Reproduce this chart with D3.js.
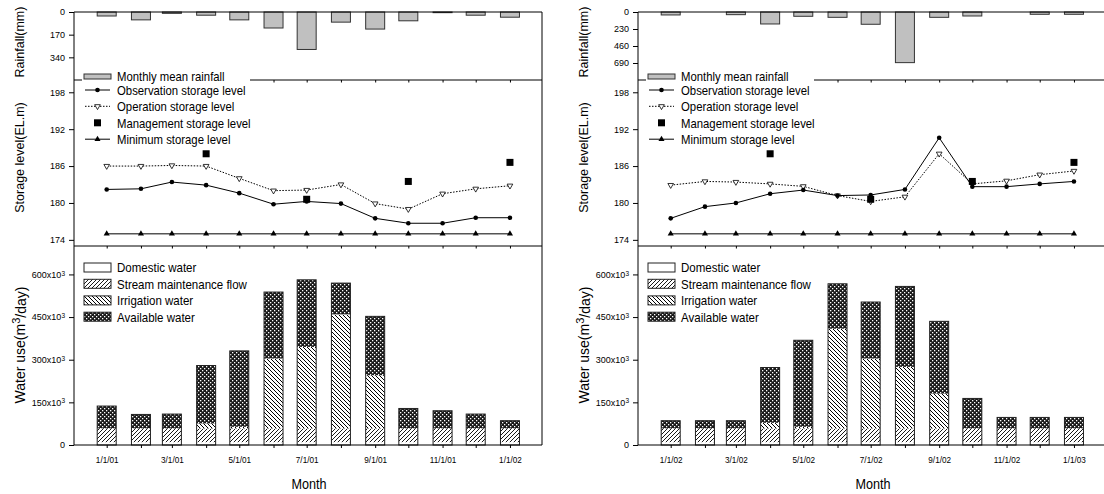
<!doctype html>
<html lang="en">
<head>
<meta charset="utf-8">
<script src="https://cdn.jsdelivr.net/npm/d3@7"></script>
<style>
body { margin: 0; background: #fff; }
svg { font-family: "Liberation Sans", Arial, sans-serif; }
</style>
</head>
<body>
<svg width="1104" height="494"></svg>
<script>
// months (first of month), 2001 and 2002 runs
var monthsA = ["2001-01-01","2001-02-01","2001-03-01","2001-04-01","2001-05-01","2001-06-01","2001-07-01",
               "2001-08-01","2001-09-01","2001-10-01","2001-11-01","2001-12-01","2002-01-01"];
var monthsB = ["2002-01-01","2002-02-01","2002-03-01","2002-04-01","2002-05-01","2002-06-01","2002-07-01",
               "2002-08-01","2002-09-01","2002-10-01","2002-11-01","2002-12-01","2003-01-01"];

// monthly mean rainfall (mm)
var rainA = [30, 59, 10, 24, 59, 120, 281, 76, 128, 66, 5, 24, 39];
var rainB = [40, 0, 36, 162, 58, 72, 166, 685, 72, 54, 0, 31, 31];

// storage levels (EL.m)
var obsA = [182.2, 182.3, 183.4, 182.9, 181.6, 179.8, 180.25, 179.9, 177.5, 176.7, 176.7, 177.6, 177.6];
var opA  = [186.0, 186.0, 186.1, 186.0, 184.0, 182.0, 182.1, 183.0, 179.9, 179.0, 181.5, 182.3, 182.8];
var obsB = [177.5, 179.4, 180.0, 181.5, 182.1, 181.2, 181.3, 182.2, 190.6, 182.65, 182.65, 183.1, 183.5];
var opB  = [182.9, 183.5, 183.4, 183.1, 182.7, 181.2, 180.25, 181.0, 188.0, 183.1, 183.6, 184.6, 185.2];
var mgmtMonthsA = ["2001-04-01","2001-07-01","2001-10-01","2002-01-01"];
var mgmtMonthsB = ["2002-04-01","2002-07-01","2002-10-01","2003-01-01"];
var mgmtA = [188.0, 180.6, 183.5, 186.6];
var mgmtB = [188.0, 180.6, 183.5, 186.6];
var minLevel = 175;

// water use (x10^3 m3/day)
var domesticA = [10, 10, 10, 10, 10, 10, 10, 10, 10, 10, 10, 10, 10];
var streamA   = [48.5, 48.5, 48.5, 48.5, 48.5, 48.5, 48.5, 48.5, 48.5, 48.5, 48.5, 48.5, 48.5];
var irrigA    = [0, 0, 0, 17.5, 5.5, 245.5, 286.5, 401, 187, 0, 0, 0, 0];
var availA    = [78.5, 49, 50.3, 203.6, 267, 234, 236, 110, 207, 70, 62, 50.3, 27];
var domesticB = [10, 10, 10, 10, 10, 10, 10, 10, 10, 10, 10, 10, 10];
var streamB   = [48.5, 48.5, 48.5, 48.5, 48.5, 48.5, 48.5, 48.5, 48.5, 48.5, 48.5, 48.5, 48.5];
var irrigB    = [0, 0, 0, 19.5, 5.5, 350.5, 245.5, 216.3, 122.5, 0, 0, 0, 0];
var availB    = [27, 27, 27, 194.6, 304.4, 158, 199, 283, 254, 105.3, 38.5, 38.5, 38.5];

var storageTicks = [174, 180, 186, 192, 198];
var waterTicks = [0, 150, 300, 450, 600];

var W = 468, yTop = 12, yRain = 80, yStor = 246, yWater = 445;
var parse = d3.timeParse("%Y-%m-%d");
var svg = d3.select("svg");
var defs = svg.append("defs");

// fill patterns
var pS = defs.append("pattern").attr("id", "pStream").attr("patternUnits", "userSpaceOnUse")
    .attr("width", 4).attr("height", 4);
pS.append("rect").attr("width", 4).attr("height", 4).attr("fill", "#fff");
pS.append("path").attr("d", "M-1,1L1,-1M0,4L4,0M3,5L5,3").attr("stroke", "#000").attr("stroke-width", 0.9);
var pI = defs.append("pattern").attr("id", "pIrrig").attr("patternUnits", "userSpaceOnUse")
    .attr("width", 4).attr("height", 4);
pI.append("rect").attr("width", 4).attr("height", 4).attr("fill", "#fff");
pI.append("path").attr("d", "M-1,3L1,5M0,0L4,4M3,-1L5,1").attr("stroke", "#000").attr("stroke-width", 1);
var pA = defs.append("pattern").attr("id", "pAvail").attr("patternUnits", "userSpaceOnUse")
    .attr("width", 4).attr("height", 4);
pA.append("rect").attr("width", 4).attr("height", 4).attr("fill", "#1a1a1a");
pA.append("rect").attr("x", 0).attr("y", 0).attr("width", 1.3).attr("height", 1.3).attr("fill", "#fff");
pA.append("rect").attr("x", 2).attr("y", 2).attr("width", 1.3).attr("height", 1.3).attr("fill", "#fff");

var fills = {dom: "#fff", stream: "url(#pStream)", irrig: "url(#pIrrig)", avail: "url(#pAvail)"};

var panels = [
  {x0: 74, months: monthsA, rain: rainA, rainMax: 510, rainTicks: [0, 170, 340],
   obs: obsA, op: opA, mgmtMonths: mgmtMonthsA, mgmt: mgmtA,
   dom: domesticA, stream: streamA, irrig: irrigA, avail: availA},
  {x0: 638, months: monthsB, rain: rainB, rainMax: 920, rainTicks: [0, 230, 460, 690],
   obs: obsB, op: opB, mgmtMonths: mgmtMonthsB, mgmt: mgmtB,
   dom: domesticB, stream: streamB, irrig: irrigB, avail: availB}
];

function fmtDate(d) {
  return (d.getMonth() + 1) + "/" + d.getDate() + "/" + String(d.getFullYear()).slice(2);
}

function styleAxis(sel, size) {
  sel.select(".domain").remove();
  sel.selectAll(".tick line").attr("stroke", "#000");
  sel.selectAll(".tick text").attr("font-size", size).attr("font-family", null).attr("fill", "#000");
}

// narrow text: the original lettering is condensed
function narrowText(parent, x, y, size, str, sx) {
  return parent.append("text")
    .attr("transform", "translate(" + x + "," + y + ") scale(" + (sx || 0.86) + ",1)")
    .attr("dy", "0.36em").attr("font-size", size).text(str);
}

panels.forEach(function(p) {
  var g = svg.append("g");
  var dates = p.months.map(parse);
  var x = d3.scaleTime()
      .domain([new Date(+dates[0] - 29.6 * 864e5), new Date(+dates[dates.length - 1] + 29 * 864e5)])
      .range([p.x0, p.x0 + W]);
  var yR = d3.scaleLinear().domain([0, p.rainMax]).range([yTop, yRain]);
  var yS = d3.scaleLinear().domain([173, 200]).range([yStor, yRain]);
  var yW = d3.scaleLinear().domain([0, 700]).range([yWater, yStor]);
  var bw = 19;

  // rainfall bars (hanging from top)
  g.append("g").selectAll("rect").data(p.rain).join("rect")
    .attr("x", function(d, i) { return x(dates[i]) - bw / 2; })
    .attr("y", yR(0))
    .attr("width", bw)
    .attr("height", function(d) { return yR(d) - yR(0); })
    .attr("fill", "#c0c0c0").attr("stroke", "#333").attr("stroke-width", 1);

  // stacked water use bars
  var rows = dates.map(function(d, i) {
    return {date: d, dom: p.dom[i], stream: p.stream[i], irrig: p.irrig[i], avail: p.avail[i]};
  });
  var stack = d3.stack().keys(["dom", "stream", "irrig", "avail"])(rows);
  g.append("g").selectAll("g").data(stack).join("g")
    .attr("fill", function(s) { return fills[s.key]; })
    .selectAll("rect").data(function(s) { return s.filter(function(v) { return v[1] > v[0]; }); }).join("rect")
    .attr("x", function(v) { return x(v.data.date) - bw / 2; })
    .attr("y", function(v) { return yW(v[1]); })
    .attr("width", bw)
    .attr("height", function(v) { return yW(v[0]) - yW(v[1]); })
    .attr("stroke", "none");
  // bar outlines
  g.append("g").selectAll("rect").data(rows).join("rect")
    .attr("x", function(r) { return x(r.date) - bw / 2; })
    .attr("y", function(r) { return yW(r.dom + r.stream + r.irrig + r.avail); })
    .attr("width", bw)
    .attr("height", function(r) { return yW(0) - yW(r.dom + r.stream + r.irrig + r.avail); })
    .attr("fill", "none").attr("stroke", "#222").attr("stroke-width", 1);

  // storage lines
  var line = d3.line().x(function(d, i) { return x(dates[i]); }).y(function(d) { return yS(d); });
  var mins = dates.map(function() { return minLevel; });
  g.append("path").attr("d", line(mins)).attr("fill", "none").attr("stroke", "#555").attr("stroke-width", 1.5);
  g.append("g").selectAll("path").data(mins).join("path")
    .attr("d", d3.symbol(d3.symbolTriangle, 16))
    .attr("transform", function(d, i) { return "translate(" + x(dates[i]) + "," + yS(d) + ")"; })
    .attr("fill", "#000");

  g.append("path").attr("d", line(p.op)).attr("fill", "none").attr("stroke", "#000")
    .attr("stroke-width", 1).attr("stroke-dasharray", "1.5,1.5");
  g.append("g").selectAll("path").data(p.op).join("path")
    .attr("d", d3.symbol(d3.symbolTriangle, 14))
    .attr("transform", function(d, i) { return "translate(" + x(dates[i]) + "," + yS(d) + ") rotate(180)"; })
    .attr("fill", "#fff").attr("stroke", "#000").attr("stroke-width", 0.8);

  g.append("path").attr("d", line(p.obs)).attr("fill", "none").attr("stroke", "#000").attr("stroke-width", 1);
  g.append("g").selectAll("circle").data(p.obs).join("circle")
    .attr("cx", function(d, i) { return x(dates[i]); })
    .attr("cy", function(d) { return yS(d); })
    .attr("r", 2.3).attr("fill", "#000");

  var mDates = p.mgmtMonths.map(parse);
  g.append("g").selectAll("rect").data(p.mgmt).join("rect")
    .attr("x", function(d, i) { return x(mDates[i]) - 3.5; })
    .attr("y", function(d) { return yS(d) - 3.5; })
    .attr("width", 7).attr("height", 7).attr("fill", "#000");

  // frame
  var fr = g.append("g").attr("stroke", "#000").attr("stroke-width", 1).attr("fill", "none");
  fr.append("path").attr("d", "M" + p.x0 + "," + yTop + "H" + (p.x0 + W) + "V" + yWater + "H" + p.x0 + "Z");
  fr.append("path").attr("d", "M" + p.x0 + "," + yRain + "H" + (p.x0 + W));
  fr.append("path").attr("d", "M" + p.x0 + "," + yStor + "H" + (p.x0 + W));

  // y axes
  var ar = g.append("g").attr("transform", "translate(" + p.x0 + ",0)")
    .call(d3.axisLeft(yR).tickValues(p.rainTicks).tickSize(5).tickPadding(4));
  styleAxis(ar, "9px");
  var as = g.append("g").attr("transform", "translate(" + p.x0 + ",0)")
    .call(d3.axisLeft(yS).tickValues(storageTicks).tickSize(5).tickPadding(4));
  styleAxis(as, "9px");
  var aw = g.append("g").attr("transform", "translate(" + p.x0 + ",0)")
    .call(d3.axisLeft(yW).tickValues(waterTicks).tickSize(5).tickPadding(4));
  styleAxis(aw, "9px");
  aw.selectAll(".tick text").each(function(d) {
    if (d === 0) return;
    var t = d3.select(this).text(null);
    t.append("tspan").text(d + "x10");
    t.append("tspan").attr("dy", "-0.35em").attr("font-size", "6.5px").text("3");
  });

  // x ticks on each panel's bottom edge
  [yRain, yStor].forEach(function(yy) {
    var a = g.append("g").attr("transform", "translate(0," + yy + ")")
      .call(d3.axisBottom(x).tickValues(dates).tickSize(2.5).tickFormat(""));
    styleAxis(a, "8.5px");
  });
  var ax = g.append("g").attr("transform", "translate(0," + yWater + ")")
    .call(d3.axisBottom(x).tickValues(dates).tickSize(3).tickPadding(8)
      .tickFormat(function(d, i) { return i % 2 === 0 ? fmtDate(d) : ""; }));
  styleAxis(ax, "9.5px");
  ax.selectAll(".tick text").attr("transform", "scale(0.86,1)");

  // axis titles
  var cx = p.x0 - 50.5;
  g.append("text").attr("transform", "translate(" + cx + ",42) rotate(-90)")
    .attr("text-anchor", "middle").attr("font-size", "12.5px").text("Rainfall(mm)");
  g.append("text").attr("transform", "translate(" + cx + ",157.5) rotate(-90)")
    .attr("text-anchor", "middle").attr("font-size", "12.5px").text("Storage level(EL.m)");
  var wt = g.append("text").attr("transform", "translate(" + (cx + 1) + ",345) rotate(-90)")
    .attr("text-anchor", "middle").attr("font-size", "14px");
  wt.append("tspan").text("Water use(m");
  wt.append("tspan").attr("dy", "-0.4em").attr("font-size", "11px").text("3");
  wt.append("tspan").attr("dy", "0.4em").text("/day)");
  g.append("text").attr("transform", "translate(" + (p.x0 + 235) + ",489) scale(0.87,1)")
    .attr("text-anchor", "middle").attr("font-size", "14.5px").text("Month");

  // legends
  var lx = p.x0 + 10, tx = p.x0 + 43;
  var lg = g.append("g");
  lg.append("rect").attr("x", p.x0 + 8).attr("y", 70).attr("width", 168).attr("height", 13).attr("fill", "#fff");
  lg.append("rect").attr("x", lx).attr("y", 74).attr("width", 27).attr("height", 5)
    .attr("fill", "#c0c0c0").attr("stroke", "#333");
  narrowText(lg, tx, 76, "12.6px", "Monthly mean rainfall", 0.9);

  var sy = [90, 106.3, 122.8, 139.2];
  lg.append("line").attr("x1", lx + 1).attr("x2", lx + 26).attr("y1", sy[0]).attr("y2", sy[0]).attr("stroke", "#000");
  lg.append("circle").attr("cx", lx + 13.5).attr("cy", sy[0]).attr("r", 2.3);
  lg.append("line").attr("x1", lx + 1).attr("x2", lx + 26).attr("y1", sy[1]).attr("y2", sy[1]).attr("stroke", "#000")
    .attr("stroke-dasharray", "1.5,1.5");
  lg.append("path").attr("d", d3.symbol(d3.symbolTriangle, 14))
    .attr("transform", "translate(" + (lx + 13.5) + "," + sy[1] + ") rotate(180)")
    .attr("fill", "#fff").attr("stroke", "#000").attr("stroke-width", 0.8);
  lg.append("rect").attr("x", lx + 10).attr("y", sy[2] - 3.5).attr("width", 7).attr("height", 7);
  lg.append("line").attr("x1", lx + 1).attr("x2", lx + 26).attr("y1", sy[3]).attr("y2", sy[3]).attr("stroke", "#000");
  lg.append("path").attr("d", d3.symbol(d3.symbolTriangle, 16))
    .attr("transform", "translate(" + (lx + 13.5) + "," + sy[3] + ")");
  ["Observation storage level", "Operation storage level", "Management storage level", "Minimum storage level"]
    .forEach(function(t, i) { narrowText(lg, tx, sy[i], "13.2px", t); });

  var wy = [267.5, 283.8, 300.4, 316.7];
  ["dom", "stream", "irrig", "avail"].forEach(function(k, i) {
    lg.append("rect").attr("x", lx).attr("y", wy[i] - 4.5).attr("width", 27).attr("height", 9)
      .attr("fill", fills[k]).attr("stroke", "#222");
  });
  ["Domestic water", "Stream maintenance flow", "Irrigation water", "Available water"]
    .forEach(function(t, i) { narrowText(lg, tx, wy[i], "13.4px", t); });
});
</script>
</body>
</html>
